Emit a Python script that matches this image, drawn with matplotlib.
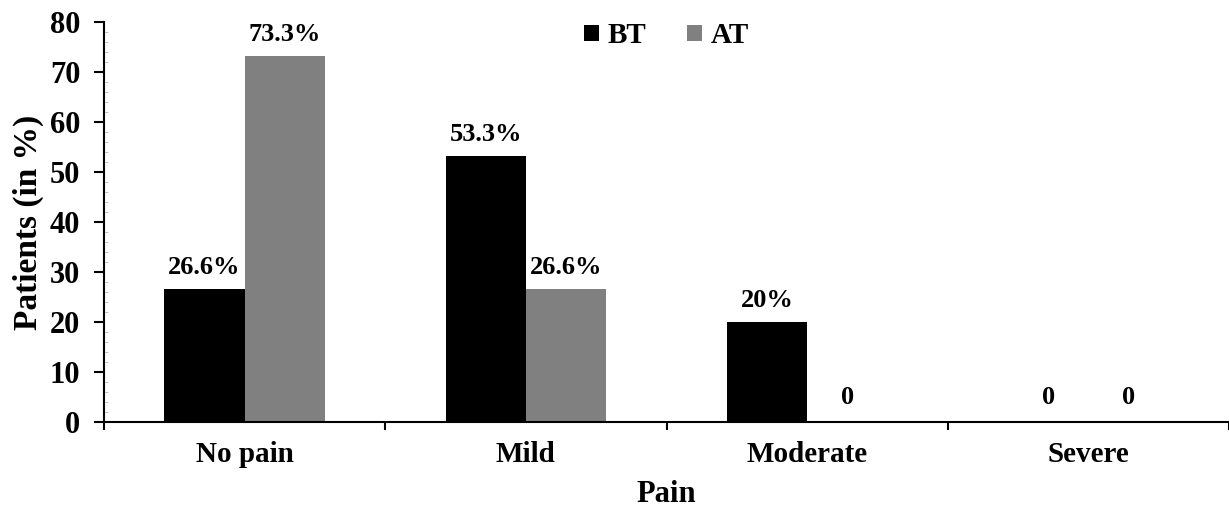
import matplotlib
matplotlib.use("Agg")
import matplotlib.pyplot as plt
import numpy as np
from matplotlib.ticker import MultipleLocator

categories = ["No pain", "Mild", "Moderate", "Severe"]
bt_values = [26.6, 53.3, 20, 0]
at_values = [73.3, 26.6, 0, 0]
bt_labels = ["26.6%", "53.3%", "20%", "0"]
at_labels = ["73.3%", "26.6%", "0", "0"]
series_names = ["BT", "AT"]

plt.rcParams['font.family'] = ['Liberation Serif', 'DejaVu Serif']
plt.rcParams['font.weight'] = 'bold'

fig = plt.figure(figsize=(12.29, 5.14), dpi=100)
ax = fig.add_axes([104/1229, 1-422/514, 1-104/1229, 400/514])

x = np.arange(len(categories))
w = 0.285
b1 = ax.bar(x - w/2, bt_values, w, color='black', label=series_names[0])
b2 = ax.bar(x + w/2, at_values, w, color='#808080', label=series_names[1])

for rects, labs in ((b1, bt_labels), (b2, at_labels)):
    for r, lab in zip(rects, labs):
        h = r.get_height()
        off = 7 if h > 0 else 9
        ax.annotate(lab, (r.get_x() + r.get_width()/2, h), xytext=(0, off),
                    textcoords='offset points', ha='center', va='bottom',
                    fontsize=19, fontweight='bold')

ax.set_xlim(-0.5, len(categories) - 0.5)
ax.set_ylim(0, 80)
ax.yaxis.set_major_locator(MultipleLocator(10))
ax.yaxis.set_minor_locator(MultipleLocator(2))
ax.tick_params(axis='y', which='major', direction='out', length=7, width=1.5, labelsize=22, pad=10)
ax.tick_params(axis='y', which='minor', direction='in', length=3, width=0.6, color='#bbbbbb')
ax.set_xticks(x)
ax.set_xticklabels(categories, fontsize=21, fontweight='bold')
ax.tick_params(axis='x', which='major', length=0, pad=14)
ax.set_xticks(np.arange(len(categories) + 1) - 0.5, minor=True)
ax.tick_params(axis='x', which='minor', direction='out', length=6, width=1.5)
for lab in ax.get_yticklabels():
    lab.set_fontweight('bold')

for s in ['top', 'right']:
    ax.spines[s].set_visible(False)
ax.spines['left'].set_linewidth(1.5)
ax.spines['bottom'].set_linewidth(1.5)

ax.set_ylabel("Patients (in %)", fontsize=24, fontweight='bold', labelpad=4)
ax.set_xlabel("Pain", fontsize=22, fontweight='bold', labelpad=8)

leg = ax.legend(loc='upper center', bbox_to_anchor=(0.5, 1.065), ncol=2, frameon=False,
                fontsize=21, handlelength=0.5, handleheight=0.5, handletextpad=0.3,
                columnspacing=1.4)
for t in leg.get_texts():
    t.set_fontweight('bold')

fig.savefig("out.png", dpi=100)
